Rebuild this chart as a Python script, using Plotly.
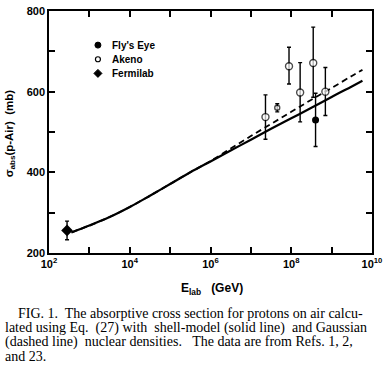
import plotly.graph_objects as go

# ---- data ----
curve_E = [360, 1e3, 3.16e3, 1e4, 3.16e4, 1e5, 3.16e5, 1e6, 3.16e6, 1e7, 3.16e7, 1e8, 3.16e8, 1e9, 3.16e9, 5.8e9]
solid_sigma = [251, 268, 289, 314, 342, 371, 400, 427, 454, 481, 508, 534, 560, 587, 613, 627]
dashed_sigma = [251, 268, 289, 314, 342, 371, 400, 428, 459, 490, 520, 550, 580, 609, 639, 654]

akeno_E = [2.3e7, 4.5e7, 8.8e7, 1.66e8, 3.5e8, 7.0e8]
akeno_sigma = [537, 560, 663, 598, 671, 600]
akeno_err_plus = [55, 10, 47, 74, 89, 60]
akeno_err_minus = [55, 10, 44, 73, 85, 59]
akeno_size = [7, 5, 7, 7, 7, 7]

flys_E = [4.0e8]
flys_sigma = [530]
flys_err = [66]

fermi_E = [280]
fermi_sigma = [256]
fermi_err = [23]

x_tickvals = [1e2, 1e3, 1e4, 1e5, 1e6, 1e7, 1e8, 1e9, 1e10]
x_ticktext = ["10<sup>2</sup>", "", "10<sup>4</sup>", "", "10<sup>6</sup>", "", "10<sup>8</sup>", "", "10<sup>10</sup>"]
y_tickvals = [200, 300, 400, 500, 600, 700, 800]
y_ticktext = ["200", "", "400", "", "600", "", "800"]

legend_labels = ["Fly's Eye", "Akeno", "Fermilab"]

NB = "\u00a0"
caption = [
    "FIG. 1.  The absorptive cross section for protons on air calcu-",
    f"lated using Eq.{NB} (27) with{NB} shell-model (solid line){NB} and Gaussian",
    f"(dashed line){NB} nuclear densities.{NB}  The data are from Refs. 1, 2,",
    "and 23.",
]

fig = go.Figure()
fig.add_trace(go.Scatter(x=curve_E, y=solid_sigma, mode="lines", line=dict(color="black", width=2.2),
                         showlegend=False, line_shape="spline"))
fig.add_trace(go.Scatter(x=curve_E, y=dashed_sigma, mode="lines", line=dict(color="black", width=1.8, dash="6px,4px"),
                         showlegend=False, line_shape="spline"))

fig.add_trace(go.Scatter(x=flys_E, y=flys_sigma, mode="markers", name=legend_labels[0], showlegend=False,
                         marker=dict(symbol="circle", size=7, color="black"),
                         error_y=dict(type="data", array=flys_err, color="black", thickness=1.4, width=2)))
fig.add_trace(go.Scatter(x=akeno_E, y=akeno_sigma, mode="markers", name=legend_labels[1], showlegend=False,
                         marker=dict(symbol="circle", size=akeno_size, color="white", line=dict(color="black", width=1.4)),
                         error_y=dict(type="data", array=akeno_err_plus, arrayminus=akeno_err_minus,
                                      color="black", thickness=1.4, width=2)))
fig.add_trace(go.Scatter(x=fermi_E, y=fermi_sigma, mode="markers", name=legend_labels[2], showlegend=False,
                         marker=dict(symbol="diamond", size=9, color="black"),
                         error_y=dict(type="data", array=fermi_err, color="black", thickness=1.4, width=2)))

tickfont = dict(family="Liberation Sans", size=11, color="black", weight="bold")
fig.update_xaxes(type="log", range=[2, 10], tickvals=x_tickvals, ticktext=x_ticktext,
                 ticks="inside", ticklen=6, tickwidth=1.5, tickcolor="black",
                 showline=True, linecolor="black", linewidth=1.5, mirror="allticks",
                 showgrid=False, zeroline=False, tickfont=tickfont)
fig.update_yaxes(range=[200, 800], tickvals=y_tickvals, ticktext=y_ticktext,
                 ticks="inside", ticklen=6, tickwidth=1.5, tickcolor="black",
                 showline=True, linecolor="black", linewidth=1.5, mirror="allticks",
                 showgrid=False, zeroline=False, tickfont=tickfont)

L, T, W, H = 48.5, 5, 323.5, 248.3
def px(x):
    return (x - L) / W
def py(y):
    return (T + H - y) / H

annotations = [
    dict(text="σ<sub>abs</sub>(p-Air)  (mb)", xref="paper", yref="paper", x=px(9), y=py(131),
         textangle=-90, showarrow=False, font=dict(family="Liberation Sans", size=11.5, color="black", weight="bold"),
         xanchor="center", yanchor="middle"),
    dict(text="E<sub>lab</sub>   (GeV)", xref="paper", yref="paper", x=px(212), y=py(290),
         showarrow=False, font=dict(family="Liberation Sans", size=12, color="black", weight="bold"),
         xanchor="center", yanchor="middle"),
]
cap_y = [315, 330, 345, 359]
cap_x = [15, 2, 2, 2]
for txt, xx, yy in zip(caption, cap_x, cap_y):
    annotations.append(dict(text=txt, xref="paper", yref="paper", x=px(xx), y=py(yy),
                            showarrow=False, xanchor="left", yanchor="middle",
                            font=dict(family="Liberation Serif", size=14, color="black")))

# manual legend
leg_y = [40, 54.5, 69]
for lab, yy in zip(legend_labels, leg_y):
    annotations.append(dict(text=lab, xref="paper", yref="paper", x=px(110), y=py(yy),
                            showarrow=False, xanchor="left", yanchor="middle",
                            font=dict(family="Liberation Sans", size=10, color="black", weight="bold")))
shapes = [
    dict(type="circle", xref="paper", yref="paper", xsizemode="pixel", ysizemode="pixel",
         xanchor=px(97.5), yanchor=py(leg_y[0]), x0=-3, x1=3, y0=-3, y1=3,
         fillcolor="black", line=dict(color="black", width=1)),
    dict(type="circle", xref="paper", yref="paper", xsizemode="pixel", ysizemode="pixel",
         xanchor=px(97.5), yanchor=py(leg_y[1]), x0=-2.5, x1=2.5, y0=-2.5, y1=2.5,
         fillcolor="white", line=dict(color="black", width=1.2)),
    dict(type="path", xref="paper", yref="paper", xsizemode="pixel", ysizemode="pixel",
         xanchor=px(97.5), yanchor=py(leg_y[2]), path="M0,-4 L4,0 L0,4 L-4,0 Z",
         fillcolor="black", line=dict(color="black", width=1)),
]

fig.update_layout(
    width=388, height=365,
    margin=dict(l=48.5, r=16, t=5, b=111.7),
    paper_bgcolor="white", plot_bgcolor="white",
    annotations=annotations, shapes=shapes,
    showlegend=False,
)

fig.write_html("out.html", config={"displayModeBar": False},
               post_script="document.body.style.margin='0px';")
